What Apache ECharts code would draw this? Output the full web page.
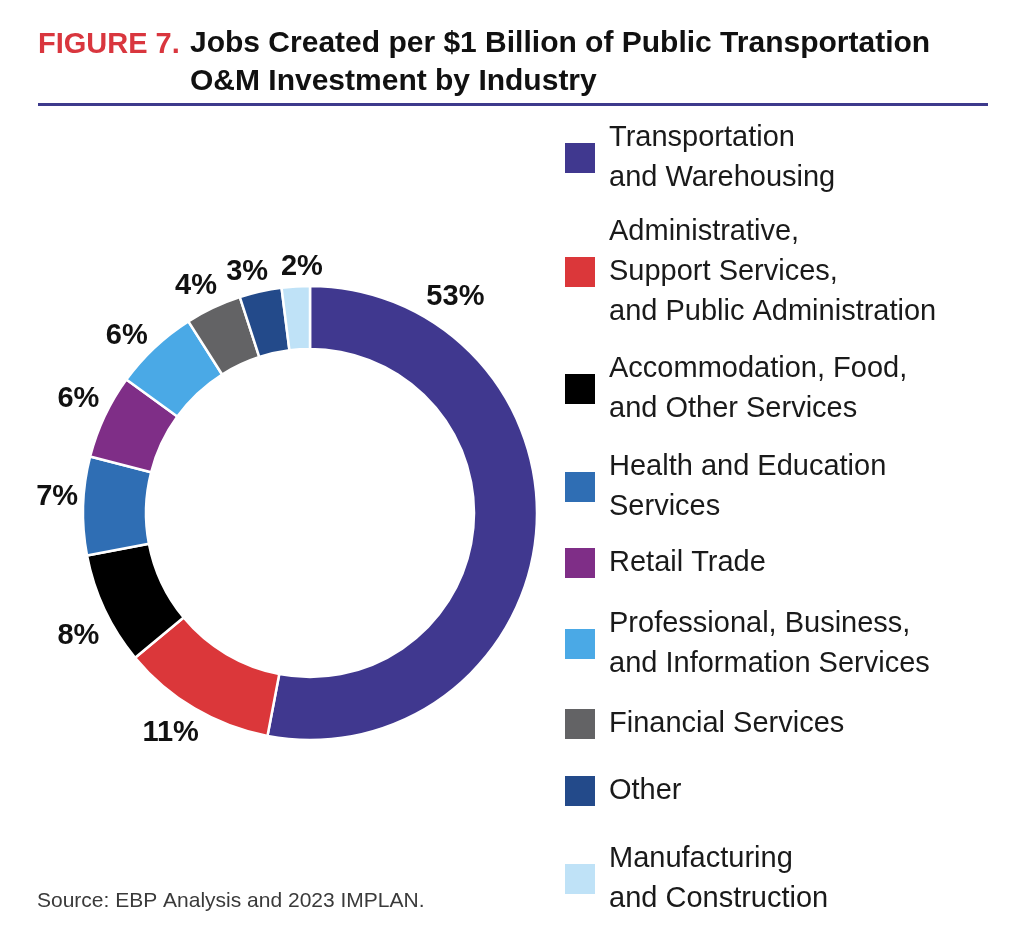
<!DOCTYPE html>
<html>
<head>
<meta charset="utf-8">
<script src="https://cdn.jsdelivr.net/npm/echarts@6/dist/echarts.min.js"></script>
<style>
html,body{margin:0;padding:0;background:#fff;}
#chart{width:1024px;height:952px;}
</style>
</head>
<body>
<div id="chart"></div>
<script>
// ---- data ----
var categories = [
  'Transportation\nand Warehousing',
  'Administrative,\nSupport Services,\nand Public Administration',
  'Accommodation, Food,\nand Other Services',
  'Health and Education\nServices',
  'Retail Trade',
  'Professional, Business,\nand Information Services',
  'Financial Services',
  'Other',
  'Manufacturing\nand Construction'
];
var shares = [53, 11, 8, 7, 6, 6, 4, 3, 2];
var colors = ['#40388f', '#db373a', '#000000', '#2f6eb4', '#7f2e87', '#4aa9e6', '#636365', '#234a8a', '#bfe2f7'];
var titleLead = 'FIGURE 7.';
var titleLines = ['Jobs Created per $1 Billion of Public Transportation', 'O&M Investment by Industry'];
var sourceText = 'Source: EBP Analysis and 2023 IMPLAN.';

// ---- layout (not data) ----
var CX = 310, CY = 513;
var R0 = 164, R1 = 227;
var LABEL_R = 253;
var BIG_LABEL_ANGLE = 34, BIG_LABEL_R = 260;
// small hand nudges of percentage labels, as in the reference
var labelNudge = [[0, 0], [-9, 0], [0, 14], [3, -8], [0, -5], [-8, 10], [-5, 5], [-7, 9], [8, 9]];
// legend block tops (each legend entry is placed individually, as in the reference)
var legendTops = [118, 212, 349, 447, 543, 604, 704, 771, 839];

var FONT = '"Liberation Sans", Arial, Helvetica, sans-serif';

var chart = echarts.init(document.getElementById('chart'), null, {renderer: 'canvas'});

var pieData = categories.map(function (c, i) {
  return {name: c, value: shares[i], itemStyle: {color: colors[i]}};
});
var labelData = categories.map(function (c, i) {
  return {name: c, value: shares[i]};
});

var legends = categories.map(function (c, i) {
  return {
    orient: 'vertical',
    left: 563,
    top: legendTops[i],
    padding: 0,
    itemWidth: 32,
    itemHeight: 32,
    icon: 'rect',
    selectedMode: false,
    data: [c],
    textStyle: {
      fontFamily: FONT,
      fontSize: 29,
      lineHeight: 40,
      color: '#1a1a1a',
      padding: [0, 0, 0, 8]
    }
  };
});

var option = {
  backgroundColor: '#ffffff',
  animation: false,
  graphic: [
    {type: 'text', left: 38, top: 30, style: {text: titleLead, fill: '#d9363e', font: 'bold 29px ' + FONT}},
    {type: 'text', left: 190, top: 29, style: {text: titleLines[0], fill: '#111111', font: 'bold 30px ' + FONT}},
    {type: 'text', left: 190, top: 67, style: {text: titleLines[1], fill: '#111111', font: 'bold 30px ' + FONT}},
    {type: 'rect', shape: {x: 38, y: 103, width: 950, height: 3}, style: {fill: '#3d3a8c'}},
    {type: 'text', left: 37, top: 891, style: {text: sourceText, fill: '#3a3a3a', font: '21px ' + FONT}}
  ],
  legend: legends,
  series: [
    {
      type: 'pie',
      center: [CX, CY],
      radius: [R0, R1],
      startAngle: 90,
      clockwise: true,
      silent: true,
      avoidLabelOverlap: false,
      itemStyle: {borderColor: '#ffffff', borderWidth: 2.5},
      label: {show: false},
      labelLine: {show: false},
      emphasis: {disabled: true},
      data: pieData
    },
    {
      type: 'pie',
      center: [CX, CY],
      radius: [LABEL_R - 12, LABEL_R + 12],
      startAngle: 90,
      clockwise: true,
      silent: true,
      avoidLabelOverlap: false,
      itemStyle: {color: 'rgba(0,0,0,0)', borderWidth: 0},
      label: {
        show: true,
        position: 'inside',
        formatter: function (p) { return p.value + '%'; },
        color: '#111111',
        fontFamily: FONT,
        fontWeight: 'bold',
        fontSize: 29
      },
      labelLine: {show: false},
      labelLayout: function (p) {
        if (p.dataIndex === 0) {
          var a = BIG_LABEL_ANGLE * Math.PI / 180;
          return {
            x: CX + BIG_LABEL_R * Math.sin(a),
            y: CY - BIG_LABEL_R * Math.cos(a),
            align: 'center',
            verticalAlign: 'middle'
          };
        }
        return {dx: labelNudge[p.dataIndex][0], dy: labelNudge[p.dataIndex][1]};
      },
      emphasis: {disabled: true},
      data: labelData
    }
  ]
};
chart.setOption(option);
</script>
</body>
</html>
